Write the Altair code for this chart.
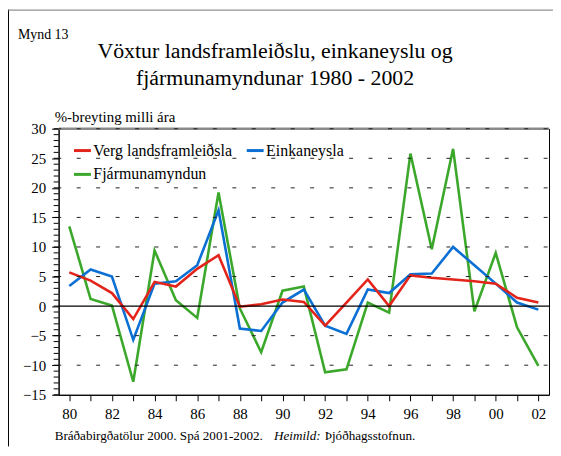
import altair as alt
import pandas as pd

FONT = "Liberation Serif"

years = list(range(1980, 2003))
series_names = ["Verg landsframleiðsla", "Einkaneysla", "Fjármunamyndun"]
series_colors = ["#e3241b", "#0b6fd4", "#3ca82b"]

gdp = [5.7, 4.3, 2.2, -2.2, 4.1, 3.3, 6.3, 8.6, -0.1, 0.3, 1.1, 0.7, -3.3, 0.6,
       4.5, 0.0, 5.2, 4.8, 4.5, 4.2, 3.8, 1.4, 0.6]
consumption = [3.4, 6.2, 5.0, -5.7, 3.8, 4.2, 6.9, 16.2, -3.8, -4.2, 0.6, 2.8, -3.3,
               -4.7, 2.8, 2.2, 5.4, 5.5, 10.0, 6.9, 3.8, 0.6, -0.6]
investment = [13.5, 1.2, 0.1, -12.8, 9.4, 1.0, -2.0, 19.2, -0.4, -7.8, 2.6, 3.3, -11.2,
              -10.7, 0.6, -1.1, 25.8, 9.6, 26.6, -0.9, 9.0, -3.6, -10.1]

y_major = list(range(-15, 31, 5))
y_minor = list(range(-15, 31))
grid_values = [-10, -5, 5, 10, 15, 20, 25, 30]

title_lines = ["Vöxtur landsframleiðslu, einkaneyslu og", "fjármunamyndunar 1980 - 2002"]
fig_label = "Mynd 13"
y_title = "%-breyting milli ára"
foot1 = "Bráðabirgðatölur 2000. Spá 2001-2002."
foot2 = "Heimild:"
foot3 = "Þjóðhagsstofnun."

rows = []
for name, vals in [(series_names[2], investment), (series_names[1], consumption), (series_names[0], gdp)]:
    for yr, v in zip(years, vals):
        rows.append({"year": yr, "value": v, "series": name})
df = pd.DataFrame(rows)

W, H = 494, 268

xscale = alt.Scale(domain=[1979.5, 2002.5], nice=False, zero=False)
yscale = alt.Scale(domain=[-15, 30], nice=False, zero=False)

yaxis = alt.Axis(values=y_major, title=None, grid=False, tickSize=7, tickColor="black",
                 domainColor="black", labelFont=FONT, labelFontSize=15, labelColor="black",
                 labelPadding=6, labelOverlap=False)

lines = alt.Chart(df).mark_line(strokeWidth=2.6).encode(
    x=alt.X("year:Q", scale=xscale,
            axis=alt.Axis(values=years, title=None, grid=False, tickSize=6, tickColor="black",
                          domainColor="black", labelFont=FONT, labelFontSize=15, labelColor="black",
                          labelPadding=6, labelOverlap=False,
                          labelExpr="datum.value % 2 == 0 ? substring(toString(datum.value), 2, 4) : ''")),
    y=alt.Y("value:Q", scale=yscale, axis=yaxis),
    color=alt.Color("series:N",
                    scale=alt.Scale(domain=series_names, range=series_colors),
                    legend=alt.Legend(orient="none", legendX=14, legendY=12, columns=2, direction="horizontal",
                                      title=None,
                                      symbolType="stroke", symbolSize=289, symbolStrokeWidth=3,
                                      labelFont=FONT, labelFontSize=16, labelColor="black",
                                      labelOffset=1, columnPadding=8, rowPadding=6, padding=0)),
    detail="series:N",
)

grid_df = pd.DataFrame({"v": grid_values})
top_df = pd.DataFrame({"v": [30]})
zero_df = pd.DataFrame({"v": [0]})
minor_df = pd.DataFrame({"v": y_minor})

yv = alt.Y("v:Q", scale=yscale, axis=yaxis)
top_line = alt.Chart(top_df).mark_rule(color="#8a8a8a", strokeWidth=2.5).encode(y=yv)
grid = alt.Chart(grid_df).mark_rule(color="#222222", strokeWidth=1, strokeDash=[4, 15.6],
                                    strokeDashOffset=18.2).encode(y=yv)
zero = alt.Chart(zero_df).mark_rule(color="black", strokeWidth=1.2).encode(y=yv)
minor = alt.Chart(minor_df).mark_rule(color="black", strokeWidth=1).encode(
    y=yv, x=alt.value(-5), x2=alt.value(0))

one = pd.DataFrame({"a": [0]})


def txt(text, x, y, size, align="left", style="normal"):
    return alt.Chart(one).mark_text(text=text, font=FONT, fontSize=size, align=align,
                                    baseline="alphabetic", color="black", fontStyle=style).encode(
        x=alt.value(x), y=alt.value(y))


texts = [
    txt(fig_label, -41, -90, 14),
    txt(title_lines[0], 218, -71, 22, align="center"),
    txt(title_lines[1], 218, -44, 22, align="center"),
    txt(y_title, -4, -6.5, 15),
    txt(foot1, -4, 313.5, 13.2),
    txt(foot2, 217, 313.5, 13.2, style="italic"),
    txt(foot3, 268, 313.5, 13.2),
]

frame_left = alt.Chart(one).mark_rule(color="black", strokeWidth=1).encode(
    x=alt.value(-50.5), y=alt.value(-120), y2=alt.value(320))
frame_top = alt.Chart(one).mark_rule(color="#777777", strokeWidth=1).encode(
    x=alt.value(-51), x2=alt.value(500), y=alt.value(-119.5))

chart = alt.layer(lines, top_line, grid, zero, minor, *texts, frame_left, frame_top).properties(
    width=W, height=H,
    autosize=alt.AutoSizeParams(type="none"),
    padding={"left": 51, "top": 120, "right": 4, "bottom": 52},
).configure_view(stroke="black", strokeWidth=1)

chart.save("out.html", embed_options={"renderer": "svg", "actions": False})
